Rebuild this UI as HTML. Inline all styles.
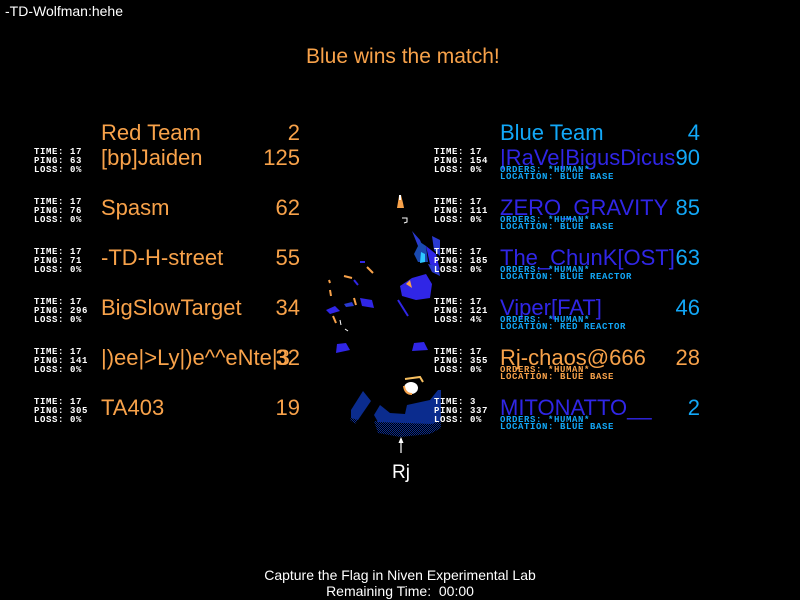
<!DOCTYPE html>
<html><head><meta charset="utf-8"><style>
html,body{margin:0;padding:0;background:#000;}
body{width:800px;height:600px;position:relative;overflow:hidden;font-family:"Liberation Sans",sans-serif;}
.a{position:absolute;white-space:pre;}
.big{font-size:22px;line-height:22px;}
.o{color:#f8a24a;}
.lb{color:#12a8f8;}
.db{color:#3026e6;}
.w{color:#fff;}
.st{position:absolute;white-space:pre;font-family:"Liberation Mono",monospace;font-size:9px;line-height:9px;letter-spacing:0.6px;font-weight:bold;color:#fff;}
.ord{position:absolute;white-space:pre;font-family:"Liberation Mono",monospace;font-size:9px;line-height:9px;letter-spacing:0.6px;font-weight:bold;}
.sl{right:500px;text-align:right;}
.sr{right:100px;text-align:right;}
</style></head><body>

<div class="a w" style="left:5px;top:4px;font-size:14px;line-height:14px;">-TD-Wolfman:hehe</div>
<div class="a o" style="left:306px;top:45.5px;font-size:21px;line-height:21px;">Blue wins the match!</div>

<svg class="a" style="left:0;top:0" width="800" height="600">
  <defs>
    <pattern id="dith" width="2" height="2" patternUnits="userSpaceOnUse">
      <rect width="1" height="1" fill="#0b2c8e"/><rect x="1" y="1" width="1" height="1" fill="#0b2c8e"/>
    </pattern>
  </defs>
  <polygon points="380,405 390,413 405,414 407,405 430,400 438,390 441,390 441,420 432,424 405,423 378,422 374,415" fill="#0b2c8e"/>
  <polygon points="374,421 441,419 441,428 430,434 400,437 378,433" fill="url(#dith)"/>
  <polygon points="363,391 371,401 358,420 351,418 351,410" fill="#0b2c8e"/>
  <polygon points="352,414 358,420 355,424 350,420" fill="url(#dith)"/>
  <ellipse cx="411" cy="388" rx="7" ry="6" fill="#fff"/>
  <path d="M404,386 Q405,394 412,394" stroke="#f8a24a" stroke-width="2" fill="none"/>
  <path d="M405,379 L420,377 L423,382" stroke="#f8c060" stroke-width="2" fill="none"/>
  <polygon points="337,344 346,343 350,350 336,353" fill="#3026e6"/>
  <polygon points="414,343 424,342 428,350 412,351" fill="#3026e6"/>
  <polygon points="399,196 401,195 403,203 404,208 397,208" fill="#f8a24a"/>
  <rect x="399" y="195" width="2" height="5" fill="#fff"/>
  <path d="M402,218 L407,218 L407,222 L404,223" stroke="#fff" stroke-width="1" fill="none"/>
  <polygon points="412,231 420,240 425,252 418,246" fill="#2a3ad0"/>
  <polygon points="420,242 426,246 428,262 418,262 414,254" fill="#1a4ab0"/>
  <polygon points="421,252 425,254 425,262 420,263" fill="#2ec8ff"/>
  <polygon points="426,246 436,254 440,270 430,264" fill="#3026e6"/>
  <polygon points="432,236 440,240 440,256 434,250" fill="#2a3ad0"/>
  <polygon points="428,264 438,266 440,276 432,272" fill="#2a3ad0"/>
  <polygon points="400,286 412,278 426,274 432,284 430,298 416,300 402,296" fill="#3026e6"/>
  <polygon points="406,284 410,280 412,288" fill="#f8a24a"/>
  <line x1="398" y1="300" x2="408" y2="316" stroke="#3026e6" stroke-width="2"/>
  <polygon points="326,310 335,306 340,311 330,314" fill="#3026e6"/>
  <polygon points="360,298 372,300 374,308 362,306" fill="#3026e6"/>
  <polygon points="344,304 352,302 354,306 346,307" fill="#2a3ad0"/>
  <line x1="367" y1="267" x2="373" y2="273" stroke="#f8a24a" stroke-width="2"/>
  <line x1="344" y1="276" x2="352" y2="278" stroke="#f8a24a" stroke-width="2"/>
  <line x1="330" y1="290" x2="331" y2="296" stroke="#f8a24a" stroke-width="2"/>
  <line x1="329" y1="280" x2="330" y2="283" stroke="#f8a24a" stroke-width="2"/>
  <line x1="354" y1="298" x2="356" y2="305" stroke="#f8a24a" stroke-width="2"/>
  <line x1="333" y1="316" x2="336" y2="323" stroke="#f8a24a" stroke-width="2"/>
  <line x1="360" y1="262" x2="365" y2="262" stroke="#3026e6" stroke-width="2"/>
  <line x1="354" y1="280" x2="358" y2="285" stroke="#3026e6" stroke-width="2"/>
  <line x1="340" y1="320" x2="341" y2="325" stroke="#fff" stroke-width="1"/>
  <line x1="345" y1="329" x2="348" y2="331" stroke="#fff" stroke-width="1"/>
  <line x1="401" y1="439" x2="401" y2="453" stroke="#fff" stroke-width="1.2"/>
  <polygon points="401,437 398.5,443 403.5,443" fill="#fff"/>
</svg>
<div class="a w" style="left:392px;top:463px;font-size:19px;line-height:19px;">Rj</div>

<!-- Red team -->
<div class="a o big" style="left:101px;top:121.9px;">Red Team</div>
<div class="a o big sl" style="top:121.9px;">2</div>

<div class="a o big" style="left:101px;top:147.4px;">[bp]Jaiden</div>
<div class="a o big sl" style="top:147.4px;">125</div>
<div class="st" style="left:34px;top:148px;">TIME: 17
PING: 63
LOSS: 0%</div>

<div class="a o big" style="left:101px;top:197.4px;">Spasm</div>
<div class="a o big sl" style="top:197.4px;">62</div>
<div class="st" style="left:34px;top:198px;">TIME: 17
PING: 76
LOSS: 0%</div>

<div class="a o big" style="left:101px;top:247.4px;">-TD-H-street</div>
<div class="a o big sl" style="top:247.4px;">55</div>
<div class="st" style="left:34px;top:248px;">TIME: 17
PING: 71
LOSS: 0%</div>

<div class="a o big" style="left:101px;top:297.4px;">BigSlowTarget</div>
<div class="a o big sl" style="top:297.4px;">34</div>
<div class="st" style="left:34px;top:298px;">TIME: 17
PING: 296
LOSS: 0%</div>

<div class="a o big" style="left:101px;top:347.4px;">|)ee|&gt;Ly|)e^^eNte|3</div>
<div class="a o big sl" style="top:347.4px;">32</div>
<div class="st" style="left:34px;top:348px;">TIME: 17
PING: 141
LOSS: 0%</div>

<div class="a o big" style="left:101px;top:397.4px;">TA403</div>
<div class="a o big sl" style="top:397.4px;">19</div>
<div class="st" style="left:34px;top:398px;">TIME: 17
PING: 305
LOSS: 0%</div>

<!-- Blue team -->
<div class="a lb big" style="left:500px;top:121.9px;">Blue Team</div>
<div class="a lb big sr" style="top:121.9px;">4</div>

<div class="a db big" style="left:500px;top:147.4px;">|RaVe|BigusDicus</div>
<div class="a lb big sr" style="top:147.4px;">90</div>
<div class="st" style="left:434px;top:148px;">TIME: 17
PING: 154
LOSS: 0%</div>
<div class="ord lb" style="left:500px;top:165.7px;">ORDERS: *HUMAN*</div>
<div class="ord lb" style="left:500px;top:172.7px;">LOCATION: BLUE BASE</div>

<div class="a db big" style="left:500px;top:197.4px;">ZERO_GRAVITY</div>
<div class="a lb big sr" style="top:197.4px;">85</div>
<div class="st" style="left:434px;top:198px;">TIME: 17
PING: 111
LOSS: 0%</div>
<div class="ord lb" style="left:500px;top:215.7px;">ORDERS: *HUMAN*</div>
<div class="ord lb" style="left:500px;top:222.7px;">LOCATION: BLUE BASE</div>

<div class="a db big" style="left:500px;top:247.4px;">The_ChunK[OST]</div>
<div class="a lb big sr" style="top:247.4px;">63</div>
<div class="st" style="left:434px;top:248px;">TIME: 17
PING: 185
LOSS: 0%</div>
<div class="ord lb" style="left:500px;top:265.7px;">ORDERS: *HUMAN*</div>
<div class="ord lb" style="left:500px;top:272.7px;">LOCATION: BLUE REACTOR</div>

<div class="a db big" style="left:500px;top:297.4px;">Viper[FAT]</div>
<div class="a lb big sr" style="top:297.4px;">46</div>
<div class="st" style="left:434px;top:298px;">TIME: 17
PING: 121
LOSS: 4%</div>
<div class="ord lb" style="left:500px;top:315.7px;">ORDERS: *HUMAN*</div>
<div class="ord lb" style="left:500px;top:322.7px;">LOCATION: RED REACTOR</div>

<div class="a o big" style="left:500px;top:347.4px;">Rj-chaos@666</div>
<div class="a o big sr" style="top:347.4px;">28</div>
<div class="st" style="left:434px;top:348px;">TIME: 17
PING: 355
LOSS: 0%</div>
<div class="ord o" style="left:500px;top:365.7px;">ORDERS: *HUMAN*</div>
<div class="ord o" style="left:500px;top:372.7px;">LOCATION: BLUE BASE</div>

<div class="a db big" style="left:500px;top:397.4px;">MITONATTO__</div>
<div class="a lb big sr" style="top:397.4px;">2</div>
<div class="st" style="left:434px;top:398px;">TIME: 3
PING: 337
LOSS: 0%</div>
<div class="ord lb" style="left:500px;top:415.7px;">ORDERS: *HUMAN*</div>
<div class="ord lb" style="left:500px;top:422.7px;">LOCATION: BLUE BASE</div>

<div class="a w" style="left:0;width:800px;text-align:center;top:568px;font-size:14px;line-height:14px;">Capture the Flag in Niven Experimental Lab</div>
<div class="a w" style="left:0;width:800px;text-align:center;top:583.5px;font-size:14px;line-height:14px;">Remaining Time:  00:00</div>

</body></html>
